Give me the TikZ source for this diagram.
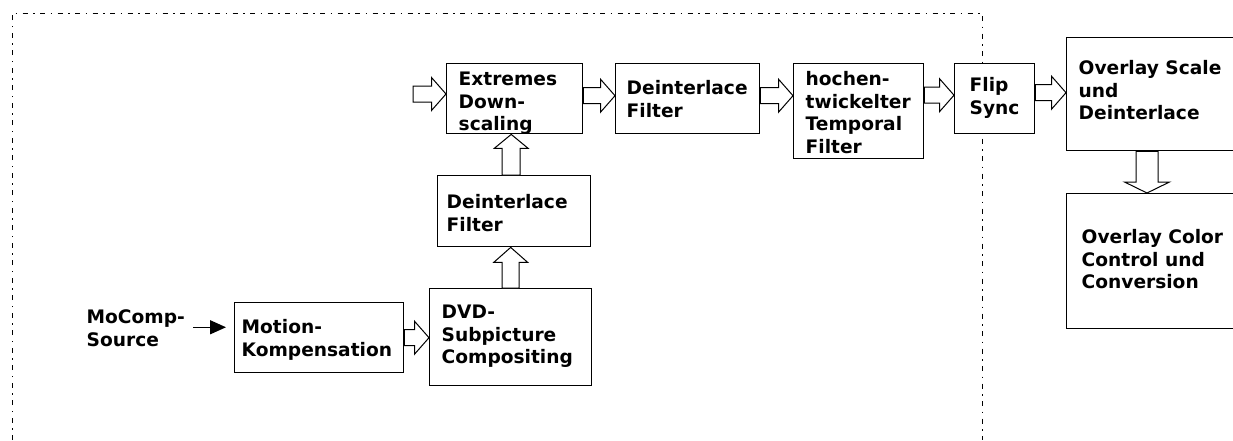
\documentclass[tikz,border=0pt]{standalone}
\usepackage{fontspec}
\setmainfont{DejaVu Sans}
\usetikzlibrary{arrows.meta,calc}
\tikzset{
  box/.style={draw, line width=1.4pt, inner sep=0pt, anchor=north west, fill=white},
  lbl/.style={anchor=north west, inner sep=0pt, align=left, font=\bfseries\fontsize{18.6}{22.5}\selectfont},
  blk/.style={draw, fill=white, line width=1pt, line join=miter},
  framestyle/.style={line width=1pt, dash pattern=on 5pt off 5.5pt on 1.5pt off 5.5pt},
}
% horizontal block arrow: #1 start point, #2 tip point (y of start is used)
\newcommand\harr[2]{\draw[blk] let \p1=(#1), \p2=(#2) in
  (\x1,\y1+8pt) -- (\x2-14.5pt,\y1+8pt) -- (\x2-14.5pt,\y1+16.5pt) -- (\x2,\y1)
  -- (\x2-14.5pt,\y1-16.5pt) -- (\x2-14.5pt,\y1-8pt) -- (\x1,\y1-8pt) -- cycle;}
% vertical block arrow: #1 start, #2 tip, #3 shaft half width, #4 head half width, #5 signed head length
\newcommand\varr[5]{\draw[blk] let \p1=(#1), \p2=(#2) in
  (\x1-#3,\y1) -- (\x1-#3,\y2+#5) -- (\x1-#4,\y2+#5) -- (\x1,\y2)
  -- (\x1+#4,\y2+#5) -- (\x1+#3,\y2+#5) -- (\x1+#3,\y1) -- cycle;}
\begin{document}
\begin{tikzpicture}[x=1pt,y=-1pt]
\path[use as bounding box, clip] (0,0) rectangle (1233,440);
\fill[white] (0,0) rectangle (1233,440);

% dash-dot frame
\draw[framestyle] (12,440) -- (12,13) -- (982,13) -- (982,440);

% boxes
\node[box, minimum width=169pt, minimum height=70pt] (mot)  at (234,302) {};
\node[box, minimum width=162pt, minimum height=97pt] (dvd)  at (429,288) {};
\node[box, minimum width=153pt, minimum height=71pt] (dlo)  at (437,175) {};
\node[box, minimum width=136pt, minimum height=70pt] (ext)  at (446,63) {};
\node[box, minimum width=144pt, minimum height=70pt] (dtop) at (615,63) {};
\node[box, minimum width=130pt, minimum height=95pt] (hoch) at (793,63) {};
\node[box, minimum width=80pt,  minimum height=70pt] (flip) at (954,63) {};
\node[box, minimum width=190pt, minimum height=113pt] (ovs) at (1066,37) {};
\node[box, minimum width=190pt, minimum height=135pt] (ovc) at (1066,193) {};

% texts
\node[lbl] (src)   at (86.5,307.8)  {\strut MoComp-\\Source};
\node[lbl] (motT)  at (241.5,317.8) {\strut Motion-\\Kompensation};
\node[lbl] (dvdT)  at (441.5,302.8) {\strut DVD-\\Subpicture\\Compositing};
\node[lbl] (dloT)  at (446.5,192.8) {\strut Deinterlace\\Filter};
\node[lbl] (extT)  at (458.5,69.8)  {\strut Extremes\\Down-\\scaling};
\node[lbl] (dtopT) at (626.5,78.8)  {\strut Deinterlace\\Filter};
\node[lbl] (hochT) at (805.5,69.8)  {\strut hochen-\\twickelter\\Temporal\\Filter};
\node[lbl] (flipT) at (969.5,75.8)  {\strut Flip\\Sync};
\node[lbl] (ovsT)  at (1078.5,58.8) {\strut Overlay Scale\\und\\Deinterlace};
\node[lbl] (ovcT)  at (1081.5,227.8) {\strut Overlay Color\\Control und\\Conversion};

% small black arrow
\draw[line width=1.5pt, -{Triangle[length=16pt,width=14pt]}, shorten <=8pt, shorten >=8pt]
  (src.east) -- (src.east -| mot.west);

% hollow block arrows
\coordinate (inA) at (413,94);
\harr{inA}{ext.west}
\harr{$(ext.east)+(0,-3)$}{dtop.west}
\harr{$(dtop.east)+(0,-3)$}{hoch.west}
\harr{$(hoch.east)+(0,-16)$}{flip.west}
\harr{$(flip.east)+(0,-6)$}{ovs.west}
\harr{mot.east}{dvd.west}
\varr{dvd.north}{dlo.south}{8.5pt}{17pt}{-15pt}
\varr{$(dlo.north)+(-3,0)$}{$(ext.south)+(-3,0)$}{9pt}{17pt}{-14pt}
\varr{$(ovs.south west)+(81,0)$}{$(ovc.north west)+(81,0)$}{11pt}{22.5pt}{11pt}
\end{tikzpicture}
\end{document}
